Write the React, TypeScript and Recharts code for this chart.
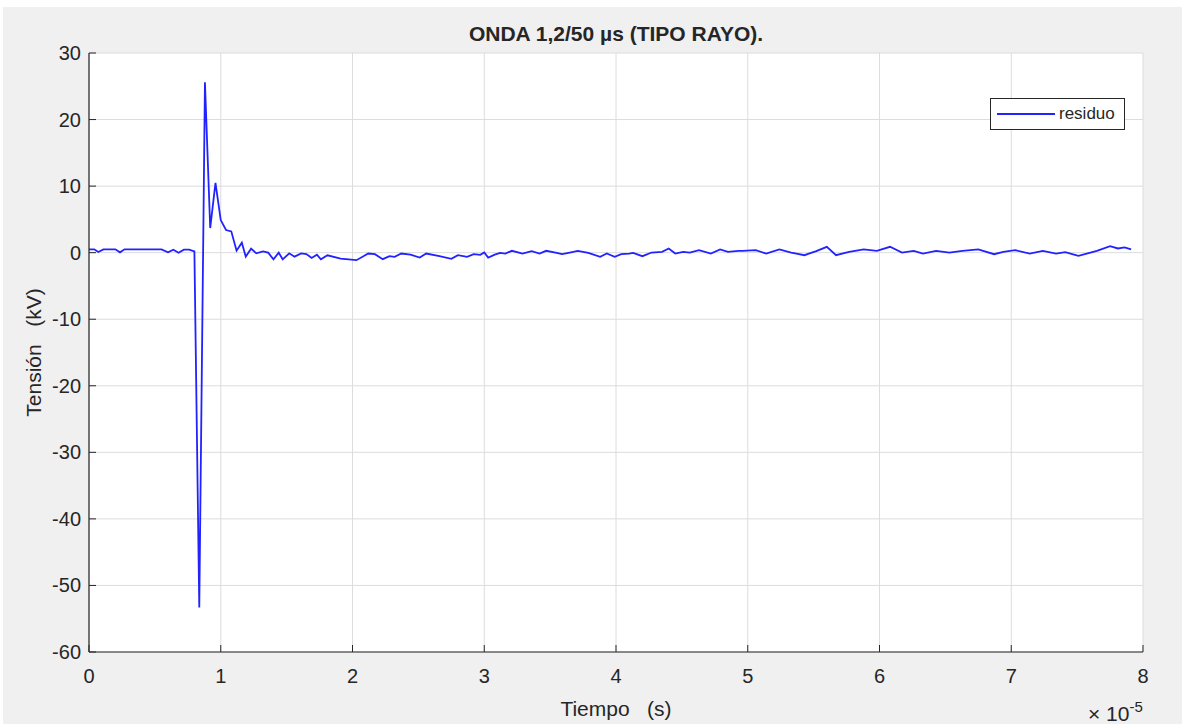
import React from 'react';
import {
  ComposedChart,
  Line,
  XAxis,
  YAxis,
  CartesianGrid,
  Legend,
} from 'recharts';

// tiempo en unidades de 1e-5 s, tensión en kV
const tiempo = [
  0, 0.04, 0.07, 0.11, 0.16, 0.2, 0.235, 0.27, 0.35, 0.45, 0.55, 0.6, 0.64, 0.68, 0.72, 0.76, 0.8,
  0.837, 0.88, 0.92, 0.96, 1.0, 1.04, 1.08, 1.12, 1.16, 1.19, 1.23, 1.27, 1.32, 1.36, 1.4, 1.44,
  1.47, 1.52, 1.56, 1.61, 1.65, 1.69, 1.73, 1.76, 1.81, 1.91, 2.03, 2.12, 2.17, 2.23, 2.28, 2.32,
  2.37, 2.44, 2.51, 2.56, 2.66, 2.75, 2.8, 2.87, 2.92, 2.97, 3.0, 3.03, 3.08, 3.12, 3.16, 3.21,
  3.29, 3.36, 3.42, 3.47, 3.55, 3.59, 3.64, 3.71, 3.79, 3.88, 3.93, 3.99, 4.04, 4.1, 4.13, 4.2,
  4.27, 4.35, 4.4, 4.45, 4.51, 4.56, 4.63, 4.72, 4.79, 4.85, 4.93, 4.96, 5.06, 5.14, 5.24, 5.33,
  5.43, 5.52, 5.6, 5.67, 5.77, 5.88, 5.98, 6.08, 6.17, 6.26, 6.33, 6.43, 6.53, 6.63, 6.75, 6.87,
  6.94, 7.03, 7.14, 7.24, 7.34, 7.41, 7.51, 7.65, 7.75, 7.81, 7.86, 7.91,
];

const residuo = [
  0.5, 0.5, 0.1, 0.5, 0.5, 0.5, 0.05, 0.5, 0.5, 0.5, 0.5, 0.05, 0.45, 0.0, 0.45, 0.45, 0.2,
  -53.3, 25.6, 3.7, 10.5, 4.9, 3.4, 3.2, 0.3, 1.5, -0.6, 0.6, -0.1, 0.2, 0.0, -1.0, 0.0,
  -1.0, -0.1, -0.6, -0.1, -0.2, -0.8, -0.3, -1.0, -0.4, -0.88, -1.13, -0.13, -0.23, -0.98, -0.53, -0.63,
  -0.13, -0.3, -0.73, -0.13, -0.53, -0.93, -0.38, -0.63, -0.23, -0.33, 0.02, -0.73, -0.3, -0.03, -0.13, 0.28,
  -0.13, 0.23, -0.13, 0.28, -0.03, -0.23, -0.03, 0.28, -0.03, -0.63, -0.13, -0.63, -0.23, -0.13, -0.03, -0.53,
  0.02, 0.13, 0.63, -0.13, 0.13, 0.02, 0.38, -0.13, 0.48, 0.13, 0.28, 0.28, 0.38, -0.13, 0.48, 0.02,
  -0.38, 0.23, 0.88, -0.38, 0.13, 0.48, 0.28, 0.88, 0.02, 0.28, -0.13, 0.28, 0.02, 0.28, 0.48, -0.23,
  0.13, 0.38, -0.13, 0.28, -0.13, 0.07, -0.48, 0.28, 0.98, 0.63, 0.78, 0.48,
];

const xTicks = [0, 1, 2, 3, 4, 5, 6, 7, 8];
const yTicks = [-60, -50, -40, -30, -20, -10, 0, 10, 20, 30];

const data = tiempo.map((t, i) => ({ t, residuo: residuo[i] }));

const FONT = '"Liberation Sans", Arial, Helvetica, sans-serif';
const INK = '#262626';
const LINE_BLUE = '#2222ff';

const W = 1182;
const H = 724;
const M = { top: 53, right: 39, bottom: 32, left: 29 };

const BottomTick = (props: any) => {
  const { x, y, payload } = props;
  return (
    <g>
      <line x1={x} y1={y} x2={x} y2={y - 7} stroke={INK} strokeWidth={1} />
      <text x={x} y={y + 31} textAnchor="middle" fontSize={20} fill={INK} fontFamily={FONT}>
        {payload.value}
      </text>
    </g>
  );
};

const TopTick = (props: any) => {
  const { x, y } = props;
  return <line x1={x} y1={y} x2={x} y2={y + 7} stroke={INK} strokeWidth={1} />;
};

const LeftTick = (props: any) => {
  const { x, y, payload } = props;
  return (
    <g>
      <line x1={x} y1={y} x2={x + 7} y2={y} stroke={INK} strokeWidth={1} />
      <text x={x - 8} y={y + 7} textAnchor="end" fontSize={20} fill={INK} fontFamily={FONT}>
        {payload.value}
      </text>
    </g>
  );
};

const RightTick = (props: any) => {
  const { x, y } = props;
  return <line x1={x} y1={y} x2={x - 7} y2={y} stroke={INK} strokeWidth={1} />;
};

const LegendBox = (props: any) => {
  const items = props.payload || [];
  return (
    <div
      style={{
        width: 135,
        height: 32,
        boxSizing: 'border-box',
        border: `1px solid ${INK}`,
        background: '#fff',
        display: 'flex',
        alignItems: 'center',
        fontFamily: FONT,
        fontSize: 17,
        color: INK,
      }}
    >
      {items.map((it: any) => (
        <div key={it.value} style={{ display: 'flex', alignItems: 'center' }}>
          <svg width={66} height={10} style={{ display: 'block' }}>
            <line x1={6} y1={5} x2={64} y2={5} stroke={LINE_BLUE} strokeWidth={1.8} />
          </svg>
          <span style={{ marginLeft: 2 }}>{it.value}</span>
        </div>
      ))}
    </div>
  );
};

export default function App() {
  const plotL = M.left + 60;
  const plotR = W - M.right;
  const plotT = M.top;
  const plotB = H - M.bottom - 40;
  const cx = (plotL + plotR) / 2;
  const cy = (plotT + plotB) / 2;

  return (
    <div style={{ position: 'absolute', left: 0, top: 0, width: W, height: H, background: '#fff' }}>
      <div style={{ position: 'absolute', left: 3, top: 7, width: W - 3, height: H - 7, background: '#f0f0f0' }} />
      <div style={{ position: 'absolute', left: 0, top: 0 }}>
        <ComposedChart width={W} height={H} data={data} margin={M}>
          <CartesianGrid
            stroke="#dcdcdc"
            fill="#ffffff"
            horizontalValues={yTicks}
            verticalValues={xTicks}
          />
          <XAxis
            dataKey="t"
            type="number"
            domain={[0, 8]}
            ticks={xTicks}
            interval={0}
            height={40}
            tickSize={0}
            tickMargin={0}
            tickLine={false}
            axisLine={{ stroke: INK, strokeWidth: 1.2 }}
            tick={<BottomTick />}
            allowDataOverflow
          />
          <XAxis
            xAxisId="top"
            orientation="top"
            dataKey="t"
            type="number"
            domain={[0, 8]}
            ticks={xTicks}
            interval={0}
            height={0}
            tickSize={0}
            tickMargin={0}
            tickLine={false}
            axisLine={{ stroke: INK, strokeWidth: 1.2 }}
            tick={<TopTick />}
          />
          <YAxis
            type="number"
            domain={[-60, 30]}
            ticks={yTicks}
            interval={0}
            width={60}
            tickSize={0}
            tickMargin={0}
            tickLine={false}
            axisLine={{ stroke: INK, strokeWidth: 1.2 }}
            tick={<LeftTick />}
            allowDataOverflow
          />
          <YAxis
            yAxisId="right"
            orientation="right"
            type="number"
            domain={[-60, 30]}
            ticks={yTicks}
            interval={0}
            width={0}
            tickSize={0}
            tickMargin={0}
            tickLine={false}
            axisLine={{ stroke: INK, strokeWidth: 1.2 }}
            tick={<RightTick />}
          />
          <Legend
            layout="horizontal"
            align="center"
            verticalAlign="middle"
            content={<LegendBox />}
            wrapperStyle={{ left: 990, top: 98, width: 135, height: 32 }}
          />
          <Line
            type="linear"
            dataKey="residuo"
            name="residuo"
            stroke={LINE_BLUE}
            strokeWidth={1.8}
            dot={false}
            activeDot={false}
            isAnimationActive={false}
          />
        </ComposedChart>
      </div>
      <svg
        width={W}
        height={H}
        style={{ position: 'absolute', left: 0, top: 0, pointerEvents: 'none' }}
        fontFamily={FONT}
        fill={INK}
      >
        <text x={cx} y={41} textAnchor="middle" fontSize={21} fontWeight="bold">
          ONDA 1,2/50 µs (TIPO RAYO).
        </text>
        <text x={cx} y={716} textAnchor="middle" fontSize={21} style={{ whiteSpace: 'pre' }}>
          {'Tiempo   (s)'}
        </text>
        <text
          x={0}
          y={0}
          textAnchor="middle"
          fontSize={21}
          transform={`translate(41, ${cy}) rotate(-90)`}
          style={{ whiteSpace: 'pre' }}
        >
          {'Tensión   (kV)'}
        </text>
        <text x={1088} y={721} fontSize={21}>
          {'× 10'}
          <tspan dy={-9} fontSize={15}>-5</tspan>
        </text>
      </svg>
    </div>
  );
}
